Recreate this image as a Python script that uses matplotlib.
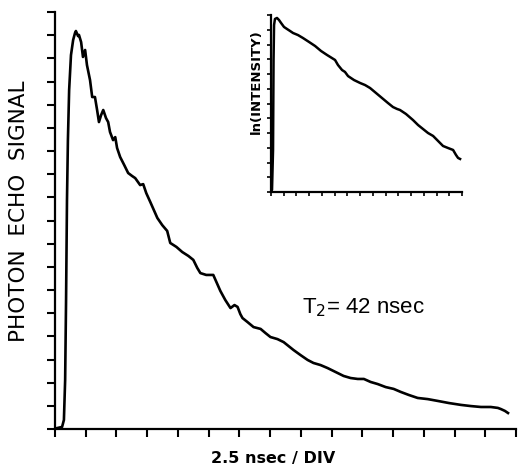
import matplotlib
matplotlib.use("Agg")
import matplotlib.pyplot as plt
import numpy as np

# Main trace (x in divisions of 2.5 nsec, y in vertical divisions)
main_x = [0.07, 0.23, 0.29, 0.33, 0.36, 0.39, 0.42, 0.46, 0.52, 0.59, 0.65, 0.68,
          0.75, 0.78, 0.85, 0.91, 0.98, 1.04, 1.14, 1.21, 1.30, 1.37, 1.43, 1.50,
          1.57, 1.66, 1.73, 1.79, 1.89, 1.96, 2.02, 2.12, 2.25, 2.38, 2.51, 2.61,
          2.77, 2.87, 2.97, 3.10, 3.33, 3.49, 3.65, 3.75, 3.95, 4.14, 4.34, 4.50,
          4.63, 4.73, 4.92, 5.15, 5.25, 5.38, 5.54, 5.71, 5.84, 5.94, 6.03, 6.10,
          6.26, 6.46, 6.69, 6.85, 7.01, 7.24, 7.44, 7.60, 7.76, 7.99, 8.22, 8.41,
          8.64, 8.87, 9.13, 9.39, 9.62, 9.85, 10.05, 10.27, 10.50, 10.76, 11.02,
          11.25, 11.51, 11.80, 12.13, 12.46, 12.82, 13.21, 13.53, 13.86, 14.18,
          14.41, 14.51, 14.64, 14.74]
main_y = [0.04, 0.09, 0.39, 2.11, 5.57, 9.88, 12.47, 14.63, 16.14, 16.79, 17.09,
          17.18, 16.96, 17.01, 16.70, 16.06, 16.36, 15.71, 15.06, 14.33, 14.33,
          13.77, 13.25, 13.55, 13.77, 13.42, 13.25, 12.82, 12.47, 12.60, 12.13,
          11.74, 11.40, 11.05, 10.92, 10.83, 10.53, 10.57, 10.18, 9.80, 9.11, 8.80,
          8.55, 8.03, 7.86, 7.64, 7.47, 7.30, 6.95, 6.73, 6.65, 6.65, 6.35, 5.96,
          5.57, 5.22, 5.35, 5.27, 4.96, 4.79, 4.62, 4.40, 4.32, 4.14, 3.97, 3.88,
          3.75, 3.58, 3.41, 3.19, 2.98, 2.85, 2.76, 2.63, 2.46, 2.29, 2.20, 2.16,
          2.16, 2.03, 1.94, 1.81, 1.73, 1.60, 1.47, 1.34, 1.29, 1.21, 1.12, 1.04,
          0.99, 0.95, 0.95, 0.91, 0.86, 0.78, 0.69]

# Inset trace: ln(intensity), arbitrary units
ins_x = [0.00, 0.08, 0.16, 0.20, 0.24, 0.31, 0.47, 0.63, 0.79, 1.02, 1.26, 1.49,
         1.73, 2.12, 2.51, 2.99, 3.46, 3.93, 4.40, 4.79, 5.03, 5.26, 5.58, 5.81,
         6.05, 6.52, 7.00, 7.39, 7.78, 8.25, 8.72, 9.19, 9.58, 9.90, 10.13, 10.60,
         11.15, 11.55, 11.94, 12.33, 12.73, 13.12, 13.51, 13.91, 14.30, 14.53,
         14.69, 14.85]
ins_y = [0.07, 0.14, 2.85, 8.95, 11.32, 11.73, 11.80, 11.66, 11.46, 11.19, 11.05,
         10.92, 10.78, 10.64, 10.44, 10.17, 9.90, 9.56, 9.29, 9.08, 8.95, 8.61,
         8.27, 8.14, 7.86, 7.59, 7.39, 7.25, 7.05, 6.71, 6.37, 6.03, 5.76, 5.63,
         5.56, 5.29, 4.88, 4.54, 4.27, 4.00, 3.80, 3.46, 3.12, 2.98, 2.85, 2.51,
         2.31, 2.24]

W, H = 519, 468
fig = plt.figure(figsize=(W / 100, H / 100), dpi=100)
fig.patch.set_facecolor("white")

# main axes
ax = fig.add_axes([55 / W, 1 - 429 / H, (516 - 55) / W, (429 - 12) / H])
ax.plot(main_x, main_y, color="black", lw=1.9, solid_joinstyle="round")
ax.set_xlim(0, 15)
ax.set_ylim(0, 18)
ax.set_xticks(np.arange(0, 16, 1))
ax.set_yticks(np.arange(0, 19, 1))
ax.set_xticklabels([])
ax.set_yticklabels([])
for s in ["top", "right"]:
    ax.spines[s].set_visible(False)
for s in ["left", "bottom"]:
    ax.spines[s].set_linewidth(1.6)
ax.tick_params(direction="out", length=6, width=1.5, colors="black")
ax.set_facecolor("none")

fig.text(19 / W, 1 - 211 / H, "PHOTON  ECHO  SIGNAL", fontsize=15.5,
         family="DejaVu Sans", rotation=90, ha="center", va="center")
fig.text(273 / W, 1 - 458 / H, "2.5 nsec / DIV", fontsize=11.5,
         fontweight="bold", family="DejaVu Sans", ha="center", va="center")
ax.text(8.05, 5.0, "T$_2$= 42 nsec", fontsize=16, family="Liberation Sans",
        ha="left", va="baseline")

# inset axes
ia = fig.add_axes([271 / W, 1 - 192 / H, (462 - 271) / W, (192 - 15) / H])
ia.plot(ins_x, ins_y, color="black", lw=1.8, solid_joinstyle="round")
ia.set_xlim(0, 15)
ia.set_ylim(0, 12)
ia.set_xticks(np.arange(0, 16, 1))
ia.set_yticks(np.arange(0, 13, 1))
ia.set_xticklabels([])
ia.set_yticklabels([])
for s in ["top", "right"]:
    ia.spines[s].set_visible(False)
for s in ["left", "bottom"]:
    ia.spines[s].set_linewidth(1.6)
ia.tick_params(direction="out", length=3, width=1.2, colors="black")
ia.set_facecolor("none")
fig.text(256 / W, 1 - 82 / H, "ln(INTENSITY)", fontsize=9.5,
         fontweight="bold", family="DejaVu Sans", rotation=90,
         ha="center", va="center")

fig.savefig("out.png", dpi=100, facecolor="white")
